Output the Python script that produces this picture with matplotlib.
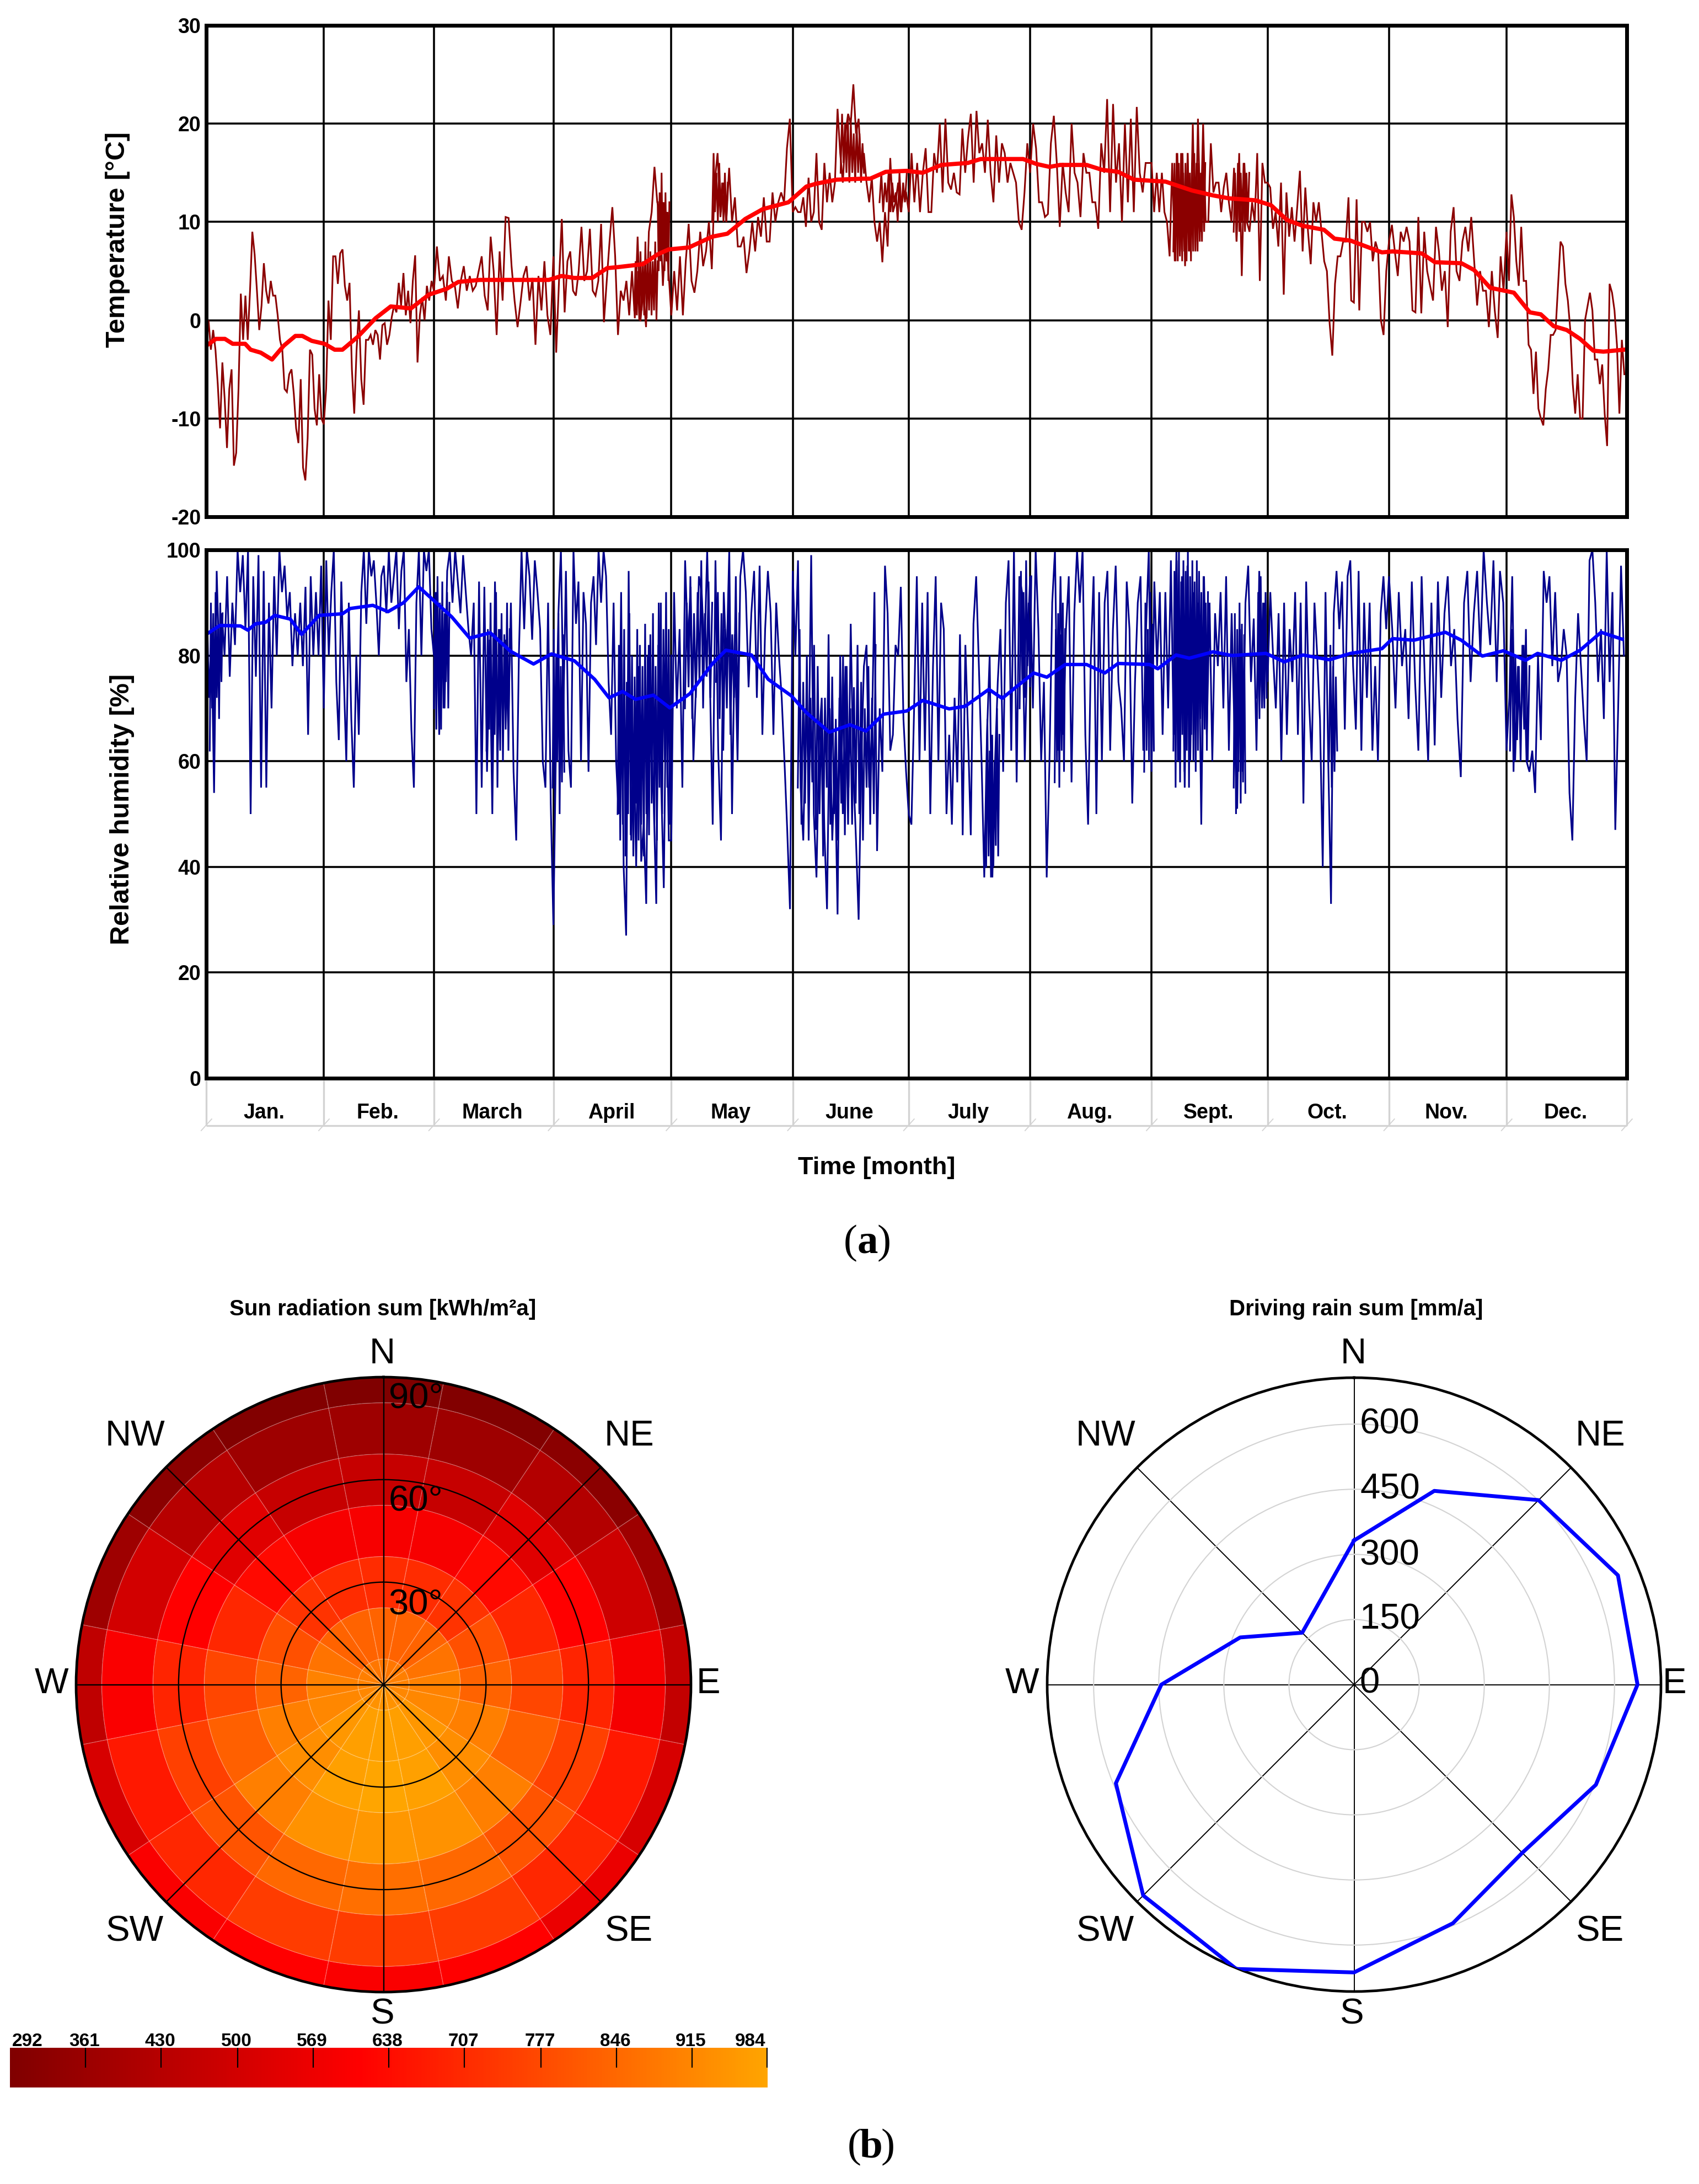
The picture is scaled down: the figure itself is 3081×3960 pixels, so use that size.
import matplotlib
matplotlib.use('Agg')
import matplotlib.pyplot as plt
from matplotlib.colors import LinearSegmentedColormap, Normalize
import numpy as np

W, H = 3081, 3960
SANS = 'Liberation Sans'
SERIF = 'Liberation Serif'

month_names = ['Jan.', 'Feb.', 'March', 'April', 'May', 'June', 'July', 'Aug.', 'Sept.', 'Oct.', 'Nov.', 'Dec.']
month_edges = [0, 30.2, 58.5, 89.2, 119.5, 150.7, 180.5, 211.7, 242.9, 272.7, 303.9, 334.1, 365]

# hourly temperature swings
temp_jan = [-3, 0, -3, -1, -3, -6.5, -11, -4.3, -8, -13, -7, -5, -14.8, -13.5, -7, 2.7, -2, 2.5, -2, 3, 9, 6.7, 3, -1, 1.5, 5.8, 3, 1.7, 4, 2.5, 2.5, 0.5, -2, -3, -7, -7.3, -5.5, -5, -7.5, -11, -12.5, -6, -15, -16.3, -12, -3, -3.5, -9, -10.7, -5.5, -10]
temp_feb = [-10.6, -7, 2, -2, 6.5, 6.5, 3.7, 6.8, 7.2, 3.5, 2, 3.8, -5, -9.5, -3, 1, -6, -8.6, -2, -2, -1.5, -2.5, -1, -1.5, -4, -0.5, -0.3, -2.5, -1.5, 0.3, 1.5, 0.8, 3.8, 1.5, 4.8, 0.5, 3, -0.3, 4, 6.6, -4.3, 0.5, 2.3, 0, 3.5, 2, 4]
temp_mar = [3, 7.5, 4, 4.5, 2, 6.5, 4, 3.5, 1.2, 4, 5.5, 3, 4.5, 3, 3.5, 5, 6.5, 2.5, 1, 8.5, 5, -1.5, 7, 2, 10.5, 10.4, 5.5, 2, -0.7, 1.8, 4.5, 5.5, 2, 4.3, -2.5, 4.5, 1, 6, 0.5, -1.5]
temp_apr = [6.5, -3.3, 4, 10.3, 0.8, 6, 7, 3, 2.5, 5, 9.5, 4, 5, 9.3, 3, 2.5, 4, 9.8, -0.2, 4, 8, 11.5, 6.5, -1.5, 3, 2, 4, 0.5, 5, 0.2, 8.5, -0.1, 3, -0.7, 9, 11, 15.6, 12, 11, 3.5, 9, 5]
temp_may = [0.5, 5, 1, 6.5, 0.5, 6, 9.8, 4, 2.8, 5, 9, 5.5, 7, 10, 5.2, 14, 17, 10.5, 14, 10, 15.5, 10, 12.5, 7.5, 7.5, 8.5, 4.8, 7, 10, 7, 10.5, 8.5, 12.5, 8, 8, 13, 10, 12, 13, 12, 17.5, 20.5]
temp_jun = [11, 11.5, 11, 11, 12.5, 9.5, 14.5, 10, 11, 17, 10, 9.2, 16, 12, 15, 12, 14, 21.5, 17, 14, 19, 21, 20, 24, 19, 20.5, 15, 17, 14, 12, 14.5, 10, 8, 10, 5.9, 11, 7.5, 16.5, 11, 12, 14, 11, 13, 13]
temp_jul = [11, 17, 12, 16, 11, 15, 17.5, 11, 11, 17, 15, 20, 13, 20.5, 14, 13.3, 15, 13, 12.8, 19.5, 15, 18.5, 21, 14, 21.3, 17, 18, 15, 20.4, 15, 12, 18.8, 14, 18, 17, 14, 16, 15, 14, 10, 9.2, 13, 18]
temp_aug = [15, 20, 17.5, 12, 12, 10.5, 10.8, 18, 20.8, 16, 9.5, 16, 13, 11, 20, 15, 14, 10.5, 17, 15, 15, 12, 12, 9.3, 18, 15, 22.5, 11, 22, 14, 18, 10, 20, 12, 20.5, 11, 21.7, 15, 13, 16, 16]
temp_sep = [16, 11, 15, 11, 15, 11, 10, 6.5, 16, 6, 17, 6.5, 17, 5.5, 17, 7, 20, 7, 20.5, 9, 20, 10, 10, 18, 13, 14, 14, 11, 13.5, 15, 12, 10, 15.5, 8, 17, 4.5, 16, 10, 9, 12, 10, 17, 4, 16, 14]
temp_oct = [14, 13.5, 9.3, 11, 7.5, 14, 2.6, 13, 8.5, 11.5, 8, 11.5, 15.2, 7, 13.5, 9, 5.7, 12, 10, 12, 9, 6, 5, -0.3, -3.6, 3.7, 6.5, 6.5, 8, 8, 12.5, 2, 1.8, 12.3, 1, 10, 10, 9, 10, 6, 8, 7, 0, -1.5, 5]
temp_nov = [8, 9.7, 7, 4.5, 9, 8, 9.5, 8, 1, 0.8, 10.5, 0.7, 9, 5, 3.5, 2, 9.5, 7, 3, 5, -0.7, 9, 11.5, 5, 4, 8, 9.5, 7, 10.5, 6, 1.5, 5, 3, 3, -0.7, 5, 1, -1.8, 6.5, 3]
temp_dec = [9, 4, 12.8, 10.5, 6, 3.5, 9.5, 4, 4, -2.5, -3, -7.5, -3.2, -9, -10, -10.7, -7, -5, -1.5, -1.5, -1, 3.5, 8, 7.5, 3.7, 2, -1, -6.5, -9.5, -5.5, -10, -10, 0, 1.4, 2.8, 1, -4, -4, -6.5, -4.5, -9.5, -12.8, 3.7, 2.8, 1, -2.5, -9.5, -2, -5.5]

# stretches where the hourly trace is nearly solid: first day, last day, swing values
temp_thick = [
    (110, 116, [1, 6, 0.5, 5, 0, 7, 1, 6, 0.5, 8, 0.2, 6, 1, 7, 0.5, 6, 1, 8, 0, 6]),
    (116, 119, [12, 5, 13, 6, 15, 7, 12, 5, 13, 6, 11, 4, 12]),
    (130, 134, [10, 17, 11, 15, 10, 16, 11, 14, 10, 15, 10, 14]),
    (163, 169, [15, 21, 16, 20, 15, 20.5, 14, 20, 15, 19, 14, 20, 15, 19, 14, 18, 15]),
    (173, 180, [12, 15, 11, 14, 12, 15, 11, 14, 12, 13, 10, 15, 11, 14, 12, 15]),
    (248.5, 256.7, [7, 16, 6, 17, 6, 16, 7, 17, 6, 15, 7, 16, 6, 17, 7, 15, 6, 16, 7, 17, 8, 16, 7, 16, 8, 15, 8, 17, 9, 16]),
    (264, 268, [9, 15, 8, 16, 9, 15, 10, 16, 9, 15, 10, 15]),
]

temp_mean_day = [0, 2.5, 4.8, 6.8, 10, 11.4, 14, 16.9, 19.9, 22.9, 24.7, 27.1, 30.4, 33, 35, 38.9, 43.5, 47.4, 52.6, 57.2, 61.8, 64.8, 70.3, 76.9, 83.4, 88, 91.3, 94.6, 99.2, 103, 105.7, 112.2, 116, 118.8, 124, 130, 133.9, 138.5, 143, 149.6, 154.2, 156.8, 162, 168.6, 170.6, 174.6, 180, 184.1, 188.9, 195.7, 199, 209.9, 213.3, 216.7, 219.4, 226.2, 230.2, 234.3, 238.4, 246.5, 253.3, 258.7, 262.8, 269.6, 273.6, 277.7, 281.8, 287.2, 289.9, 294, 302.1, 304.8, 312.3, 315.7, 322.5, 325.8, 329.9, 336, 340.1, 342.9, 346.2, 349.6, 353, 356.4, 359, 364.3]
temp_mean = [-2.6, -1.9, -1.9, -2.4, -2.4, -3.0, -3.3, -4, -2.6, -1.6, -1.6, -2.1, -2.4, -3, -3, -1.7, 0.2, 1.4, 1.2, 2.6, 3.2, 3.9, 4.1, 4.1, 4.1, 4.1, 4.5, 4.3, 4.3, 5.3, 5.4, 5.7, 6.7, 7.2, 7.4, 8.5, 8.8, 10.3, 11.3, 12, 13.6, 13.9, 14.3, 14.4, 14.4, 15.1, 15.2, 15, 15.8, 16, 16.4, 16.4, 15.9, 15.6, 15.8, 15.8, 15.3, 15.1, 14.3, 14.1, 13.2, 12.7, 12.4, 12.2, 11.7, 10.2, 9.6, 9.2, 8.3, 8.1, 6.9, 7, 6.8, 5.9, 5.8, 5.1, 3.3, 2.8, 0.8, 0.6, -0.6, -1, -1.9, -3.1, -3.2, -3]

# hourly relative humidity swings
rh_jan = [97, 72, 84, 54, 96, 78, 88, 80, 95, 76, 90, 82, 100, 92, 99, 85, 100, 50, 95, 76, 99, 55, 96, 55, 90, 70, 95, 80, 100, 92, 97, 87, 92, 78, 88, 80, 90, 78, 93, 65, 95, 80, 92, 80, 97]
rh_feb = [70, 98, 80, 92, 100, 75, 64, 94, 76, 60, 90, 68, 55, 80, 65, 92, 100, 86, 100, 95, 98, 90, 80, 95, 97, 88, 100, 90, 95, 100, 85, 96, 100, 75, 85, 66, 55, 90, 100, 80, 100, 96, 100, 85]
rh_mar = [80, 92, 65, 85, 70, 96, 100, 90, 100, 94, 88, 99, 92, 85, 80, 90, 50, 94, 55, 93, 58, 83, 50, 94, 62, 85, 68, 83, 66, 90, 58, 45, 80, 100, 85, 100, 95, 83, 98, 92, 85, 60, 55, 90, 52]
rh_apr = [29, 62, 88, 100, 70, 96, 62, 55, 100, 86, 94, 60, 92, 86, 58, 90, 95, 82, 100, 90, 100, 95, 75, 65, 90, 60, 50, 92, 40, 27, 96, 45, 64, 40, 78, 41, 48, 33, 82, 63, 52, 33, 90, 55, 36, 78, 45]
rh_may = [45, 92, 70, 85, 55, 98, 82, 93, 60, 75, 95, 92, 80, 100, 75, 48, 98, 62, 45, 92, 78, 100, 50, 84, 60, 95, 100, 92, 74, 88, 96, 72, 97, 65, 85, 96, 88, 65, 90, 80, 72, 60, 47, 32]
rh_jun = [96, 80, 98, 55, 45, 70, 58, 99, 50, 38, 64, 72, 47, 32, 70, 45, 60, 31, 80, 50, 78, 48, 86, 58, 45, 30, 60, 78, 82, 55, 65, 92, 43, 70, 58, 97, 88, 62, 65, 82, 80, 93, 68, 58]
rh_jul = [50, 48, 70, 95, 60, 90, 62, 92, 50, 78, 95, 60, 90, 85, 50, 65, 48, 72, 56, 84, 46, 82, 65, 46, 86, 95, 78, 60, 38, 65, 80, 38, 60, 75, 85, 58, 90, 98, 62, 100, 56, 95, 92, 60, 82]
rh_aug = [95, 70, 100, 85, 60, 75, 38, 60, 90, 100, 62, 95, 65, 85, 95, 56, 88, 100, 90, 100, 65, 48, 80, 95, 50, 92, 60, 90, 96, 62, 85, 97, 75, 70, 60, 94, 85, 52, 75, 90, 95, 62, 85, 100]
rh_sep = [58, 94, 78, 92, 65, 92, 70, 98, 65, 100, 60, 95, 55, 97, 60, 92, 65, 90, 48, 95, 65, 90, 60, 88, 78, 92, 70, 95, 62, 88, 66, 51, 85, 58, 90, 97, 75, 87, 62, 96, 70, 90]
rh_oct = [75, 92, 80, 70, 88, 60, 90, 65, 85, 75, 92, 65, 90, 52, 94, 72, 60, 90, 80, 68, 40, 92, 60, 33, 88, 96, 85, 94, 66, 95, 98, 78, 66, 96, 62, 90, 72, 90, 62, 78, 60, 88, 95, 85]
rh_nov = [95, 85, 70, 92, 78, 85, 68, 94, 75, 62, 95, 75, 60, 90, 63, 94, 72, 88, 95, 78, 85, 68, 57, 90, 96, 75, 88, 96, 80, 100, 90, 82, 98, 75, 96, 90]
rh_dec = [62, 72, 95, 60, 78, 66, 82, 60, 58, 62, 54, 80, 64, 96, 90, 95, 78, 92, 75, 78, 85, 80, 54, 45, 72, 88, 78, 68, 60, 98, 100, 90, 75, 85, 68, 100, 75, 92, 47, 70, 97, 80]

rh_thick = [
    (0.9, 4.2, [62, 90, 70, 88, 65, 92, 72, 85, 68, 90, 75, 88]),
    (58.5, 62.5, [70, 92, 66, 95, 72, 90, 66, 94, 70, 88, 75, 92, 70, 90]),
    (72, 78, [62, 85, 66, 90, 58, 84, 65, 92, 55, 85, 62, 88, 60, 84, 66, 90, 62, 85]),
    (89, 92, [55, 85, 52, 80, 60, 88, 50, 78, 56, 84, 58]),
    (105.7, 119.5, [50, 82, 45, 78, 48, 85, 42, 75, 50, 88, 46, 80, 42, 76, 52, 85, 45, 82, 48, 78, 42, 86, 50, 80, 46, 84, 52, 88, 48, 78, 45, 82, 55, 90, 50, 85, 60, 92, 55, 85, 48, 80]),
    (123, 130, [70, 90, 74, 95, 68, 88, 72, 92, 75, 98, 70, 88, 76, 94, 72, 90]),
    (131, 137, [75, 92, 68, 88, 62, 85, 70, 92, 65, 84, 72, 95, 66, 88]),
    (152, 172, [55, 85, 48, 75, 52, 80, 45, 72, 56, 82, 47, 78, 50, 70, 42, 72, 55, 84, 48, 76, 50, 68, 45, 72, 52, 80, 46, 78, 55, 70, 48, 74, 52, 82, 50, 75, 45, 70, 55, 78, 48, 72, 50, 82]),
    (200.4, 203.8, [40, 68, 42, 62, 38, 65, 40, 60, 44, 70, 42, 65]),
    (209, 212, [70, 96, 75, 92, 72, 98, 78, 90, 74, 95]),
    (218, 220.7, [56, 85, 60, 88, 55, 84, 62, 90, 58, 85]),
    (241, 243.5, [58, 90, 62, 85, 60, 92, 66, 86, 62]),
    (248.5, 257.4, [62, 96, 55, 98, 60, 100, 56, 94, 65, 98, 58, 96, 62, 100, 55, 95, 65, 98, 60, 94, 58, 98, 62, 96, 68, 92, 60, 95, 66, 90, 62, 92]),
    (264, 267, [55, 88, 50, 85, 58, 90, 52, 86, 56, 84, 54]),
    (270, 272.5, [72, 92, 68, 95, 74, 90, 70, 92, 72]),
    (288.5, 290.6, [60, 82, 55, 78, 58, 76, 62]),
    (335, 340, [62, 85, 58, 80, 64, 78, 60, 82, 66, 85, 60, 78]),
]

rh_mean_day = [0, 3.5, 8.8, 10.7, 12.7, 15.3, 17.6, 21.6, 24.5, 29, 35, 37, 42.8, 46.7, 50.7, 54.6, 58.5, 63.1, 67.7, 73, 78.2, 84.1, 88.7, 94.6, 99.8, 103.5, 107, 110.3, 114.9, 119.1, 124.3, 130, 133.5, 140.1, 144.4, 150.3, 154.2, 160.1, 165.4, 169.5, 174, 180, 184.1, 190.9, 195, 201.1, 204.5, 212.6, 216, 220.7, 226.2, 230.9, 234.3, 242.4, 244.5, 249.2, 252.6, 258.7, 263.5, 272.3, 277, 281.8, 288.6, 294, 302.1, 304.8, 310.3, 318.4, 322.5, 327.9, 333.3, 339, 342.1, 348.2, 353, 358.4, 363.8]
rh_mean = [84, 85.7, 85.6, 84.8, 86, 86.3, 87.6, 86.9, 84, 87.6, 87.9, 88.9, 89.5, 88.3, 90, 93, 90.4, 87.3, 83.3, 84.3, 80.8, 78.4, 80.3, 79, 75.5, 72, 73.2, 71.7, 72.5, 70.1, 72.8, 78.4, 81, 80.1, 75.5, 72.4, 69.2, 65.5, 66.9, 65.7, 68.9, 69.5, 71.5, 69.9, 70.4, 73.6, 71.9, 76.7, 75.9, 78.3, 78.3, 76.7, 78.5, 78.3, 77.5, 80.1, 79.5, 80.7, 80, 80.4, 78.8, 80.1, 79.2, 80.4, 81.3, 83.2, 82.9, 84.4, 82.9, 79.9, 80.9, 79.1, 80.4, 79.1, 81, 84.4, 83.1]

compass_angles = [0, 22.5, 45, 67.5, 90, 112.5, 135, 157.5, 180, 202.5, 225, 247.5, 270, 292.5, 315, 337.5]
elev_edges = [0, 7.5, 22.5, 37.5, 52.5, 67.5, 82.5, 90]

# sun radiation per ring, same order as compass_angles
sun_ring0 = [880, 880, 885, 895, 905, 915, 930, 940, 945, 940, 930, 915, 905, 895, 885, 880]
sun_ring1 = [835, 835, 835, 870, 905, 915, 950, 970, 975, 970, 950, 915, 905, 870, 835, 835]
sun_ring2 = [710, 710, 725, 790, 835, 895, 930, 973, 984, 973, 930, 895, 835, 790, 725, 710]
sun_ring3 = [590, 590, 630, 700, 770, 825, 895, 940, 950, 940, 895, 825, 770, 700, 630, 590]
sun_ring4 = [470, 470, 535, 610, 690, 755, 800, 845, 860, 845, 800, 755, 690, 610, 535, 470]
sun_ring5 = [370, 370, 420, 485, 585, 665, 700, 745, 745, 745, 700, 665, 600, 500, 430, 370]
sun_ring6 = [292, 300, 320, 370, 460, 510, 560, 610, 600, 610, 600, 510, 450, 370, 320, 300]

rain = [332, 483, 601, 658, 653, 603, 548, 595, 663, 709, 687, 594, 444, 284, 169, 207]

cbar_ticks = [292, 361, 430, 500, 569, 638, 707, 777, 846, 915, 984]


def px_axes(x0, y0, x1, y1, **kw):
    return fig.add_axes([x0 / W, 1 - y1 / H, (x1 - x0) / W, (y1 - y0) / H], **kw)


def px_text(x, y, s, **kw):
    return fig.text(x / W, 1 - y / H, s, **kw)


def month_series(months):
    xs = [np.linspace(month_edges[i], month_edges[i + 1], len(m), endpoint=False) for i, m in enumerate(months)]
    return np.concatenate(xs), np.concatenate(months)


def plot_thick(ax, blocks, color):
    for start, end, vals in blocks:
        ax.plot(np.linspace(start, end, len(vals)), vals, color=color, lw=2.2, solid_joinstyle='miter')


def style_time_axes(ax, yticks):
    ax.set_xlim(0, 365)
    ax.set_xticks(month_edges[1:-1])
    ax.set_xticklabels([])
    ax.set_yticks(yticks)
    ax.set_yticklabels([str(t) for t in yticks], family=SANS, fontweight='bold', fontsize=27)
    ax.tick_params(length=0, pad=7)
    ax.grid(True, color='black', lw=2.6)
    ax.set_axisbelow(True)
    for s in ax.spines.values():
        s.set_linewidth(5)


fig = plt.figure(figsize=(W / 100, H / 100), dpi=100, facecolor='white')

# temperature
ax_t = px_axes(374, 46, 2950, 937)
x, y = month_series([temp_jan, temp_feb, temp_mar, temp_apr, temp_may, temp_jun, temp_jul, temp_aug, temp_sep, temp_oct, temp_nov, temp_dec])
ax_t.plot(x, y, color='#8B0000', lw=2.2, solid_joinstyle='miter')
plot_thick(ax_t, temp_thick, '#8B0000')
ax_t.plot(temp_mean_day, temp_mean, color='#FF0000', lw=5.5)
ax_t.set_ylim(-20, 30)
style_time_axes(ax_t, [-20, -10, 0, 10, 20, 30])
px_text(213, 435, 'Temperature [°C]', rotation=90, ha='center', va='center', family=SANS, fontweight='bold', fontsize=35)

# humidity
ax_h = px_axes(374, 997, 2950, 1955)
x, y = month_series([rh_jan, rh_feb, rh_mar, rh_apr, rh_may, rh_jun, rh_jul, rh_aug, rh_sep, rh_oct, rh_nov, rh_dec])
ax_h.plot(x, y, color='#00008B', lw=2.2, solid_joinstyle='miter')
plot_thick(ax_h, rh_thick, '#00008B')
ax_h.plot(rh_mean_day, rh_mean, color='#0000FF', lw=4.5)
ax_h.set_ylim(0, 100)
style_time_axes(ax_h, [0, 20, 40, 60, 80, 100])
px_text(222, 1467, 'Relative humidity [%]', rotation=90, ha='center', va='center', family=SANS, fontweight='bold', fontsize=35)

# month strip under the humidity plot, y runs in picture pixels
ax_m = px_axes(374, 1959, 2950, 2055)
ax_m.set_xlim(0, 365)
ax_m.set_ylim(2055, 1959)
ax_m.axis('off')
ax_m.vlines(month_edges, 1959, 2041, color='#D3D3D3', lw=2.4, clip_on=False)
ax_m.hlines(2041, 0, 365, color='#D3D3D3', lw=2.4, clip_on=False)
for e in month_edges:
    ax_m.plot([e - 1.3, e + 1.4], [2050, 2029], color='#D3D3D3', lw=1.3, clip_on=False)
for i, name in enumerate(month_names):
    ax_m.text((month_edges[i] + month_edges[i + 1]) / 2 - 0.3, 2028, name, ha='center', va='baseline',
              family=SANS, fontweight='bold', fontsize=27)
px_text(1590, 2129, 'Time [month]', ha='center', va='baseline', family=SANS, fontweight='bold', fontsize=32.6)

# sun radiation rose
cmap = LinearSegmentedColormap.from_list('sun', [(0, '#800000'), (0.46, '#FF0000'), (1, '#FFA500')])
norm = Normalize(292, 984)
ax_s = px_axes(138, 2497, 1253, 3612, projection='polar')
ax_s.set_theta_zero_location('N')
ax_s.set_theta_direction(-1)
sun_rings = [sun_ring0, sun_ring1, sun_ring2, sun_ring3, sun_ring4, sun_ring5, sun_ring6]
for j, ring in enumerate(sun_rings):
    ax_s.bar(np.radians(compass_angles), elev_edges[j + 1] - elev_edges[j], width=np.radians(22.5), bottom=elev_edges[j],
             color=cmap(norm(ring)), edgecolor=(1, 1, 1, 0.22), linewidth=1.0, align='center')
ax_s.set_ylim(0, 90)
ax_s.set_yticks([30, 60])
ax_s.set_yticklabels([])
ax_s.set_xticks(np.radians([0, 45, 90, 135, 180, 225, 270, 315]))
ax_s.set_xticklabels([])
ax_s.tick_params(length=0)
ax_s.grid(True, color='black', lw=1.7)
ax_s.set_axisbelow(False)
ax_s.spines['polar'].set_linewidth(3.4)

# driving rain rose
ax_r = px_axes(1899, 2497, 3012, 3612, projection='polar')
ax_r.set_theta_zero_location('N')
ax_r.set_theta_direction(-1)
ax_r.plot(np.radians(compass_angles + [360]), rain + rain[:1], color='#0000FF', lw=5, zorder=5)
ax_r.set_ylim(0, 707)
ax_r.set_yticks([150, 300, 450, 600])
ax_r.set_yticklabels([])
ax_r.set_xticks(np.radians([0, 45, 90, 135, 180, 225, 270, 315]))
ax_r.set_xticklabels([])
ax_r.tick_params(length=0)
ax_r.xaxis.grid(True, color='black', lw=1.4)
ax_r.yaxis.grid(True, color='#D3D3D3', lw=1.5)
ax_r.spines['polar'].set_linewidth(3.4)

compass = dict(ha='center', va='center', family=SANS, fontsize=47)
for name, x, y in [('N', 693, 2455), ('NW', 245, 2604), ('NE', 1141, 2604), ('W', 94, 3053), ('E', 1284, 3053),
                   ('SW', 245, 3502), ('SE', 1141, 3502), ('S', 694, 3652)]:
    px_text(x, y, name, **compass)
for name, x, y in [('N', 2454, 2455), ('NW', 2005, 2604), ('NE', 2902, 2604), ('W', 1854, 3053), ('E', 3036, 3053),
                   ('SW', 2005, 3502), ('SE', 2902, 3502), ('S', 2452, 3652)]:
    px_text(x, y, name, **compass)
for label, y in [('90°', 2536), ('60°', 2722), ('30°', 2910)]:
    px_text(705, y, label, ha='left', va='center', family=SANS, fontsize=47, zorder=10)
for label, y in [('600', 2582), ('450', 2700), ('300', 2820), ('150', 2936), ('0', 3053)]:
    px_text(2466, y, label, ha='left', va='center', family=SANS, fontsize=47, zorder=10)

px_text(694, 2374, 'Sun radiation sum [kWh/m²a]', ha='center', va='center', family=SANS, fontweight='bold', fontsize=29)
px_text(2459, 2374, 'Driving rain sum [mm/a]', ha='center', va='center', family=SANS, fontweight='bold', fontsize=29)

# colour bar
ax_c = px_axes(18, 3713, 1392, 3785)
ax_c.imshow(np.linspace(292, 984, 512)[None, :], extent=[292, 984, 0, 1], aspect='auto', cmap=cmap, norm=norm)
ax_c.axis('off')
ax_c.vlines(cbar_ticks[1:-1], 0.5, 1, color='black', lw=1.6)
ax_c.vlines(cbar_ticks[-1] - 0.4, 0.5, 1, color='black', lw=1.6)
for t in cbar_ticks:
    ha = 'left' if t == cbar_ticks[0] else 'right' if t == cbar_ticks[-1] else 'center'
    off = 2 if t == cbar_ticks[0] else -2 if t == cbar_ticks[-1] else -1
    ax_c.text(t + off, 0.94, str(t), ha=ha, va='bottom', family=SANS, fontweight='bold', fontsize=24, clip_on=False)

# panel letters
for x, y, letter in [(1573, 2254, 'a'), (1580, 3893, 'b')]:
    px_text(x - 18, y, '(', ha='right', va='center', family=SERIF, fontsize=54)
    px_text(x, y, letter, ha='center', va='center', family=SERIF, fontweight='bold', fontsize=54)
    px_text(x + 18, y, ')', ha='left', va='center', family=SERIF, fontsize=54)

fig.savefig('out.png', dpi=100, facecolor='white')
